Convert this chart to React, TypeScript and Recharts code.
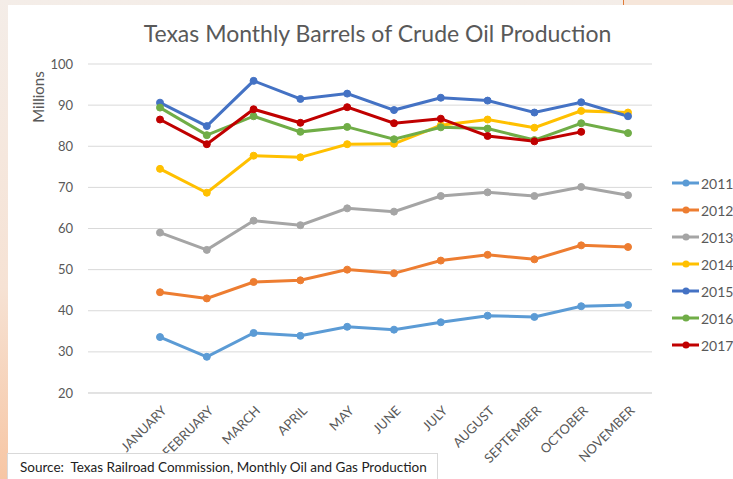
import React from "react";
import { LineChart, Line, XAxis, YAxis, CartesianGrid } from "recharts";

const months = [
  "JANUARY",
  "FEBRUARY",
  "MARCH",
  "APRIL",
  "MAY",
  "JUNE",
  "JULY",
  "AUGUST",
  "SEPTEMBER",
  "OCTOBER",
  "NOVEMBER",
];

// millions of barrels
const y2011 = [33.6, 28.8, 34.6, 33.9, 36.1, 35.4, 37.2, 38.8, 38.5, 41.1, 41.4];
const y2012 = [44.5, 43.0, 47.0, 47.4, 50.0, 49.1, 52.2, 53.6, 52.5, 55.9, 55.5];
const y2013 = [59.0, 54.8, 61.9, 60.8, 64.9, 64.1, 67.9, 68.8, 67.9, 70.1, 68.1];
const y2014 = [74.5, 68.7, 77.7, 77.3, 80.5, 80.6, 85.1, 86.5, 84.5, 88.6, 88.2];
const y2015 = [90.6, 84.9, 95.9, 91.5, 92.8, 88.8, 91.8, 91.1, 88.2, 90.7, 87.3];
const y2016 = [89.4, 82.7, 87.3, 83.5, 84.7, 81.7, 84.6, 84.3, 81.5, 85.6, 83.2];
const y2017 = [86.5, 80.5, 89.0, 85.7, 89.5, 85.6, 86.7, 82.5, 81.2, 83.5, null];

const yTicks = [20, 30, 40, 50, 60, 70, 80, 90, 100];

const series = [
  { key: "2011", values: y2011, color: "#5B9BD5" },
  { key: "2012", values: y2012, color: "#ED7D31" },
  { key: "2013", values: y2013, color: "#A5A5A5" },
  { key: "2014", values: y2014, color: "#FFC000" },
  { key: "2015", values: y2015, color: "#4472C4" },
  { key: "2016", values: y2016, color: "#70AD47" },
  { key: "2017", values: y2017, color: "#C00000" },
];

const data = months.map((m, i) => {
  const row: Record<string, string | number | null> = { month: m };
  series.forEach((s) => {
    row[s.key] = s.values[i];
  });
  return row;
});

const FONT = "Lato, 'Open Sans', sans-serif";
const TEXT = "#595959";

const MonthTick = (props: any) => {
  const { x, y, payload } = props;
  const ax = x + 4;
  const ay = y + 15;
  return (
    <text
      x={ax}
      y={ay}
      textAnchor="end"
      dominantBaseline="central"
      transform={`rotate(-45, ${ax}, ${ay})`}
      fill={TEXT}
      fontSize={13}
      fontFamily={FONT}
    >
      {payload.value}
    </text>
  );
};

export default function App() {
  return (
    <div
      style={{
        position: "fixed",
        left: 0,
        top: 0,
        width: 733,
        height: 479,
        overflow: "hidden",
        background: "linear-gradient(180deg, #f4ede8 0%, #f6e2d4 60%, #f7c6a4 100%)",
        fontFamily: FONT,
      }}
    >
      {/* picture corner top right */}
      <div
        style={{
          position: "absolute",
          left: 623,
          top: -4,
          width: 120,
          height: 8,
          border: "1px solid #e07b39",
          background: "#f6e6da",
        }}
      />
      <div
        style={{
          position: "absolute",
          left: 8,
          top: 5,
          width: 725,
          height: 474,
          background: "#fff",
        }}
      />
      <div
        style={{
          position: "absolute",
          left: 0,
          top: 22,
          width: 755,
          textAlign: "center",
          fontSize: 23,
          lineHeight: "23px",
          color: TEXT,
        }}
      >
        Texas Monthly Barrels of Crude Oil Production
      </div>

      <div style={{ position: "absolute", left: 0, top: 0 }}>
        <LineChart
          width={733}
          height={479}
          data={data}
          margin={{ top: 64, right: 81, bottom: 0, left: 0 }}
        >
          <CartesianGrid vertical={false} stroke="#d9d9d9" strokeWidth={1} />
          <XAxis
            dataKey="month"
            interval={0}
            height={86}
            padding={{ left: 72, right: 24 }}
            tickLine={false}
            tickSize={0}
            tickMargin={0}
            axisLine={{ stroke: "#d9d9d9" }}
            tick={<MonthTick />}
          />
          <YAxis
            width={88}
            domain={[20, 100]}
            ticks={yTicks}
            interval={0}
            tickLine={false}
            axisLine={false}
            tickSize={0}
            tickMargin={15}
            tick={{ fill: TEXT, fontSize: 13, fontFamily: FONT }}
          />
          {series.map((s) => (
            <Line
              key={s.key}
              dataKey={s.key}
              stroke={s.color}
              strokeWidth={3}
              dot={{ r: 3.5, fill: s.color, stroke: s.color, strokeWidth: 1 }}
              activeDot={false}
              isAnimationActive={false}
            />
          ))}
        </LineChart>
      </div>

      <div
        style={{
          position: "absolute",
          left: 38,
          top: 97,
          transform: "translate(-50%, -50%) rotate(-90deg)",
          fontSize: 15,
          color: TEXT,
          whiteSpace: "nowrap",
        }}
      >
        Millions
      </div>

      {series.map((s, i) => (
        <div
          key={s.key}
          style={{
            position: "absolute",
            left: 672,
            top: 183 + i * 27 - 9,
            height: 18,
            display: "flex",
            alignItems: "center",
            whiteSpace: "nowrap",
          }}
        >
          <svg width={28} height={18}>
            <line x1={0} y1={9} x2={27} y2={9} stroke={s.color} strokeWidth={3} />
            <circle cx={14} cy={9} r={3.5} fill={s.color} />
          </svg>
          <span style={{ fontSize: 14, color: TEXT, marginLeft: 1 }}>{s.key}</span>
        </div>
      ))}

      <div
        style={{
          position: "absolute",
          left: 7,
          top: 453,
          width: 431,
          height: 30,
          boxSizing: "border-box",
          border: "1px solid #d9d9d9",
          background: "#fff",
          fontSize: 13.5,
          color: "#222",
          paddingLeft: 12,
          paddingTop: 5,
          whiteSpace: "pre",
        }}
      >
        {"Source:  Texas Railroad Commission, Monthly Oil and Gas Production"}
      </div>
    </div>
  );
}
